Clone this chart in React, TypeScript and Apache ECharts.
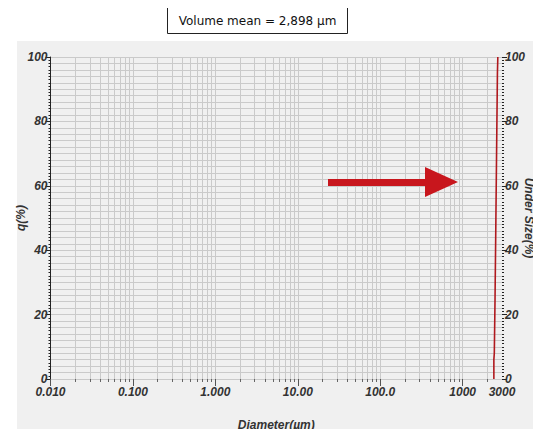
import React, { useEffect, useRef } from 'react';
import * as echarts from 'echarts';

const titleText = 'Volume mean = 2,898 µm';
const xName = 'Diameter(µm)';
const leftName = 'q(%)';
const rightName = 'Under Size(%)';
const xTickValues = [0.01, 0.1, 1, 10, 100, 1000, 3000];
const xTickLabels = ['0.010', '0.100', '1.000', '10.00', '100.0', '1000', '3000'];
const decades = [0.01, 0.1, 1, 10, 100, 1000];
const minorMultipliers = [2, 3, 4, 5, 6, 7, 8, 9];
const xMin = 0.01;
const xMax = 3000;
// cumulative undersize curve
const diameterUm = [2390, 2390, 2420, 2470, 2530, 2590, 2640, 2670];
const underSizePct = [0, 6, 8, 25, 50, 75, 95, 100];

const FONT = "'Liberation Sans Narrow','Liberation Sans',Arial,sans-serif";
const labelStyle = {
  fontFamily: FONT,
  fontWeight: 'bold' as const,
  fontStyle: 'italic' as const,
  fontSize: 12,
  color: '#333',
};
const GRID = '#cacaca';

export default function App() {
  const ref = useRef<HTMLDivElement>(null);
  useEffect(() => {
    if (!ref.current) return;
    const chart = echarts.init(ref.current, undefined, { renderer: 'svg' });
    const minorValues: number[] = [];
    decades.forEach((d) =>
      minorMultipliers.forEach((m) => {
        if (d * m < xMax) minorValues.push(d * m);
      })
    );
    const fmtX = (v: number) => {
      let best = 0;
      let bd = Infinity;
      xTickValues.forEach((t, i) => {
        const dd = Math.abs(Math.log10(v) - Math.log10(t));
        if (dd < bd) {
          bd = dd;
          best = i;
        }
      });
      return xTickLabels[best];
    };
    chart.setOption({
      animation: false,
      backgroundColor: '#fff',
      grid: {
        left: 50.5,
        right: 39,
        top: 57,
        bottom: 58,
        containLabel: false,
        outerBoundsMode: 'none',
      },
      graphic: [
        {
          type: 'rect',
          z: -100,
          silent: true,
          shape: { x: 17, y: 41, width: 520, height: 396 },
          style: { fill: '#f0f0f0' },
        },
        {
          type: 'rect',
          shape: { x: 167.5, y: 7.5, width: 180, height: 26 },
          style: { fill: '#fff', stroke: '#222', lineWidth: 1 },
        },
        {
          type: 'text',
          x: 257.5,
          y: 20.5,
          style: {
            text: titleText,
            fontFamily: "'DejaVu Sans', Verdana, sans-serif",
            fontSize: 12,
            fill: '#111',
            align: 'center',
            verticalAlign: 'middle',
          },
        },
        {
          type: 'text',
          x: 529,
          y: 218,
          rotation: -Math.PI / 2,
          style: {
            text: rightName,
            fontFamily: FONT,
            fontWeight: 'bold',
            fontStyle: 'italic',
            fontSize: 12,
            fill: '#333',
            align: 'center',
            verticalAlign: 'middle',
          },
        },
        {
          type: 'polygon',
          z: 100,
          shape: {
            points: [
              [328, 179],
              [425, 179],
              [425, 167],
              [458, 182],
              [425, 197],
              [425, 186],
              [328, 186],
            ],
          },
          style: { fill: '#c8161d' },
        },
      ],
      xAxis: [
        {
          type: 'log',
          logBase: 10,
          min: xMin,
          max: xMax,
          position: 'bottom',
          name: xName,
          nameLocation: 'middle',
          nameGap: 40,
          nameMoveOverlap: false,
          nameTextStyle: { ...labelStyle, fontSize: 12 },
          axisLine: { show: true, lineStyle: { color: GRID } },
          axisTick: {
            show: true,
            customValues: decades,
            length: 7,
            lineStyle: { color: '#555' },
          },
          axisLabel: { customValues: xTickValues, formatter: fmtX, margin: 7, ...labelStyle },
          splitLine: { show: true, lineStyle: { color: GRID } },
        },
        {
          type: 'log',
          logBase: 10,
          min: xMin,
          max: xMax,
          position: 'bottom',
          axisLine: { show: false },
          axisTick: {
            show: true,
            customValues: minorValues,
            length: 3,
            lineStyle: { color: '#666' },
          },
          axisLabel: { show: false },
          splitLine: { show: true, lineStyle: { color: GRID } },
        },
      ],
      yAxis: [
        {
          type: 'value',
          min: 0,
          max: 100,
          interval: 20,
          position: 'left',
          name: leftName,
          nameLocation: 'middle',
          nameGap: 24,
          nameMoveOverlap: false,
          nameRotate: 90,
          nameTextStyle: labelStyle,
          axisLine: { show: true, lineStyle: { color: '#222' } },
          axisTick: { show: true, length: 5, lineStyle: { color: '#222' } },
          minorTick: { show: true, splitNumber: 20, length: 2, lineStyle: { color: '#222' } },
          axisLabel: { margin: 3, ...labelStyle },
          splitLine: { show: true, lineStyle: { color: GRID } },
        },
        {
          type: 'value',
          min: 0,
          max: 100,
          interval: 20,
          position: 'right',
          axisLine: { show: false },
          axisTick: { show: true, length: 5, lineStyle: { color: '#222' } },
          minorTick: { show: true, splitNumber: 20, length: 2, lineStyle: { color: '#222' } },
          axisLabel: { margin: 3, ...labelStyle },
          splitLine: { show: false },
        },
        {
          type: 'value',
          min: 0,
          max: 100,
          interval: 2,
          position: 'left',
          axisLine: { show: false },
          axisTick: { show: false },
          axisLabel: { show: false },
          splitLine: { show: true, lineStyle: { color: GRID } },
        },
      ],
      series: [
        {
          type: 'line',
          xAxisIndex: 0,
          yAxisIndex: 1,
          data: diameterUm.map((d, i) => [d, underSizePct[i]]),
          showSymbol: false,
          lineStyle: { color: '#b0191e', width: 1.6 },
          z: 10,
        },
      ],
    });
    return () => chart.dispose();
  }, []);
  return <div ref={ref} style={{ width: 541, height: 437, margin: -8 }} />;
}
